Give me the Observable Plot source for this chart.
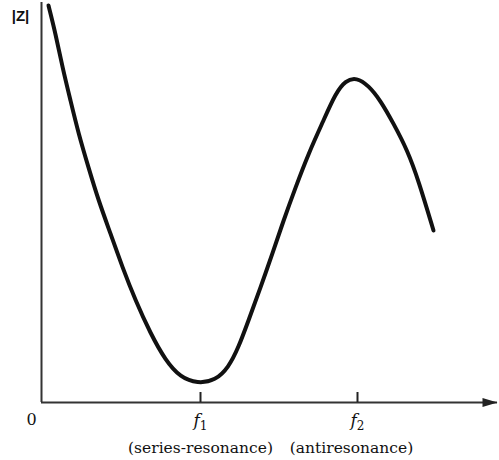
<!DOCTYPE html>
<html><head><meta charset="utf-8">
<script src="https://cdn.jsdelivr.net/npm/d3@7"></script>
<script src="https://cdn.jsdelivr.net/npm/@observablehq/plot@0.6"></script>
<style>body{margin:0;background:#fff}</style>
</head><body><div id="chart"></div>
<script>
// frequency (arbitrary units) and |Z| (arbitrary units)
const freq = [7,14,21,29,37,47,57,69,81,94,109,124,139,156,174,187,197,207,219,231,242,254,267,282,294,304,315,327,339,352,366,377,392];
const impedance = [397,369,335,302,269,235,202,169,135,102,69,42,25,19,22,35,55,82,115,149,182,215,249,282,309,322,325,317,302,279,252,222,172];
const tickFreqs = [159, 316];
const tickLabels = ["f1", "f2"];
const tickNotes = ["(series-resonance)", "(antiresonance)"];
const axisOrigin = ["0"];
const yLabel = ["|Z|"];
const xMax = 456;

const points = freq.map((f, i) => ({f, z: impedance[i]}));

const arrowHead = {
  draw(ctx) {
    ctx.moveTo(0, 0);
    ctx.lineTo(-15, -4.5);
    ctx.lineTo(-15, 4.5);
    ctx.closePath();
  }
};

const chart = Plot.plot({
  width: 499, height: 460,
  marginLeft: 41, marginRight: 2, marginTop: 2, marginBottom: 58,
  x: {domain: [0, xMax], axis: null},
  y: {domain: [0, 400], axis: null},
  marks: [
    Plot.ruleX([0], {stroke: "#333", strokeWidth: 2}),
    Plot.ruleY([0], {stroke: "#333", strokeWidth: 2}),
    Plot.dot([xMax], {x: d => d, y: 0, symbol: arrowHead, fill: "#222", stroke: null, r: 5}),
    Plot.ruleX(tickFreqs, {x: d => d, y1: 0, y2: 10, stroke: "#222", strokeWidth: 2}),
    Plot.line(points, {x: "f", y: "z", curve: "basis", stroke: "#111", strokeWidth: 4, strokeLinejoin: "round"}),
    Plot.text(tickLabels, {x: (d, i) => tickFreqs[i], y: 0, dy: 18, text: d => d, fontFamily: "DejaVu Serif", fontSize: 17, fill: "#111"}),
    Plot.text(tickNotes, {x: (d, i) => tickFreqs[i], y: 0, dy: 46, text: d => d, fontFamily: "DejaVu Serif", fontSize: 15.5, fill: "#111"}),
    Plot.text(axisOrigin, {x: 0, y: 0, dx: -10, dy: 17, text: d => d, fontFamily: "DejaVu Serif", fontSize: 16, fill: "#111"}),
    Plot.text(yLabel, {x: 0, y: 400, dx: -21, dy: 14, text: d => d, fontFamily: "Liberation Sans", fontSize: 15, fontWeight: "bold", fill: "#111"})
  ]
});
document.getElementById("chart").append(chart);
const groups = chart.querySelectorAll("g[aria-label=text]");
// f labels: italic f with an upright subscript digit
groups[0].querySelectorAll("text").forEach(t => {
  const s = t.textContent;
  t.textContent = "";
  const ns = "http://www.w3.org/2000/svg";
  const a = document.createElementNS(ns, "tspan");
  a.setAttribute("font-style", "italic");
  a.textContent = s[0];
  const b = document.createElementNS(ns, "tspan");
  b.setAttribute("font-size", "12");
  b.setAttribute("dy", "4");
  b.textContent = s.slice(1);
  t.append(a, b);
});
// shift the second note a bit left as in the original
const t2 = groups[1].querySelectorAll("text")[1];
if (t2) t2.setAttribute("transform", (t2.getAttribute("transform") || "") + " translate(-6,0)");
</script>
</body></html>
